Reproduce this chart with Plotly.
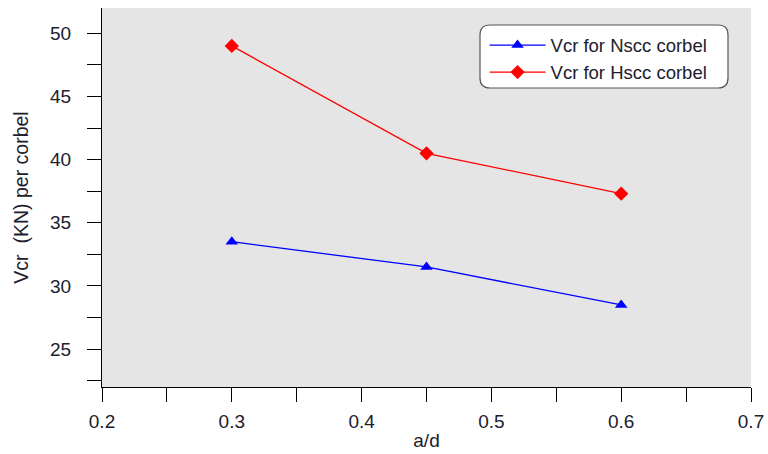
import plotly.graph_objects as go

# a/d ratios and cracking shear per corbel (kN)
ad_ratio = [0.3, 0.45, 0.6]
vcr_nscc = [33.5, 31.5, 28.5]
vcr_hscc = [49.0, 40.5, 37.3]
series_names = ["Vcr for Nscc corbel", "Vcr for Hscc corbel"]
x_ticks = [0.2, 0.3, 0.4, 0.5, 0.6, 0.7]
y_ticks = [25, 30, 35, 40, 45, 50]

FONT = "Liberation Sans, Arial, sans-serif"
TXT = "#20202c"

fig = go.Figure()
fig.add_trace(go.Scatter(
    x=ad_ratio, y=vcr_nscc, name=series_names[0], mode="lines+markers",
    line=dict(color="#0000ff", width=1.3),
    marker=dict(symbol="triangle-up", size=11, color="#0000ff"),
))
fig.add_trace(go.Scatter(
    x=ad_ratio, y=vcr_hscc, name=series_names[1], mode="lines+markers",
    line=dict(color="#ff0000", width=1.3),
    marker=dict(symbol="diamond", size=11, color="#ff0000"),
))

# rounded legend frame
L, R, T, B = 480, 728, 25, 88
pl, pr, pt, pb = 102, 751, 8, 387
def px(v):
    return (v - pl) / (pr - pl)
def py(v):
    return (pb - v) / (pb - pt)
x0, x1, y0, y1 = px(L), px(R), py(B), py(T)
rx, ry = 10 / (pr - pl), 10 / (pb - pt)
path = (f"M {x0+rx},{y0} L {x1-rx},{y0} Q {x1},{y0} {x1},{y0+ry} "
        f"L {x1},{y1-ry} Q {x1},{y1} {x1-rx},{y1} L {x0+rx},{y1} "
        f"Q {x0},{y1} {x0},{y1-ry} L {x0},{y0+ry} Q {x0},{y0} {x0+rx},{y0} Z")
fig.add_shape(type="path", path=path, xref="paper", yref="paper",
              line=dict(color="#555555", width=1.2), fillcolor="white", layer="above")

fig.update_layout(
    width=768, height=454,
    margin=dict(l=pl, r=768 - pr, t=pt, b=454 - pb, autoexpand=False),
    paper_bgcolor="white", plot_bgcolor="#e5e5e5",
    font=dict(family=FONT, size=19, color=TXT),
    showlegend=True,
    legend=dict(x=px(L) + 0.007, y=py(T) - 0.004, xanchor="left", yanchor="top",
                bgcolor="rgba(0,0,0,0)", borderwidth=0,
                font=dict(family=FONT, size=18.5, color=TXT),
                itemwidth=56, tracegroupgap=0),
)
fig.update_xaxes(
    range=[0.2, 0.7], tickvals=x_ticks, ticktext=[f"{v:g}" for v in x_ticks],
    automargin=False,
    showgrid=False, zeroline=False, showline=True, linecolor="black", linewidth=1,
    ticks="outside", ticklen=14, tickcolor="black", tickwidth=1,
    minor=dict(dtick=0.05, tick0=0.2, ticks="outside", ticklen=14, tickcolor="black", showgrid=False),
    title=dict(text="a/d", font=dict(size=19), standoff=2),
    tickfont=dict(size=19), ticklabelstandoff=3,
)
fig.update_yaxes(
    range=[22, 52], tickvals=y_ticks, automargin=False,
    showgrid=False, zeroline=False, showline=True, linecolor="black", linewidth=1,
    ticks="outside", ticklen=14, tickcolor="black", tickwidth=1,
    minor=dict(dtick=2.5, tick0=22.5, ticks="outside", ticklen=14, tickcolor="black", showgrid=False),
    title=dict(text="Vcr  (KN) per corbel", font=dict(size=19.5), standoff=16),
    tickfont=dict(size=19), ticklabelstandoff=12,
)

fig.write_html("out.html")
